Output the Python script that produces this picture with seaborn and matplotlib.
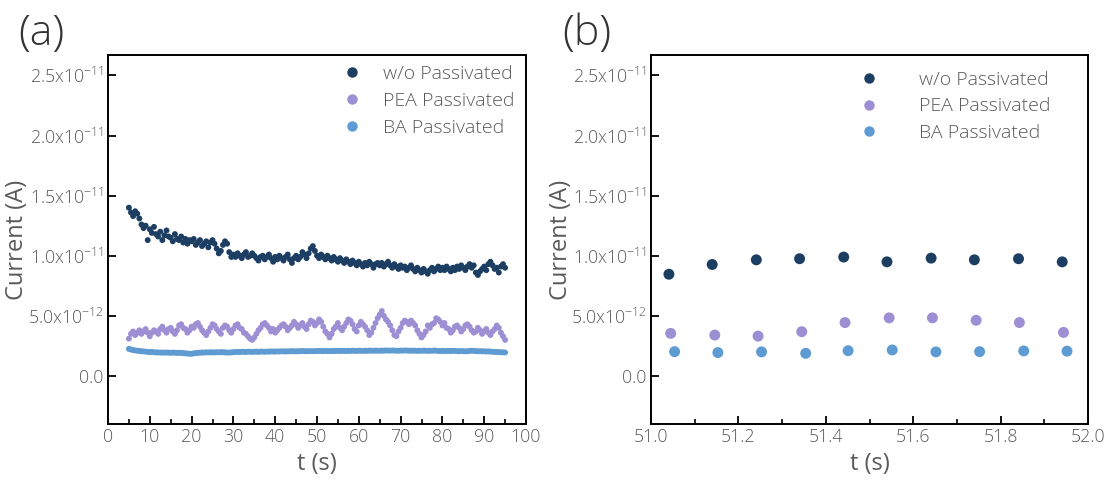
import numpy as np
import pandas as pd
import matplotlib
matplotlib.use("Agg")
import matplotlib.pyplot as plt
from matplotlib.ticker import FixedLocator, FixedFormatter, MultipleLocator
import seaborn as sns

# ---------------- data ----------------
series_names = ["w/o Passivated", "PEA Passivated", "BA Passivated"]
colors = ["#1d3e63", "#9c8fd4", "#5e9bd3"]

# panel (a): sampling times 5 .. 95 s, step 0.5 s
t_a = np.arange(5.0, 95.01, 0.5)

wo_a = [  # units of 1e-12 A
    14.0, 13.6, 13.3, 13.7, 13.5, 13.1, 12.6, 12.3, 12.5, 11.3,
    12.2, 11.9, 12.4, 11.8, 11.6, 12.0, 11.3, 11.7, 12.1, 11.6,
    11.5, 11.2, 11.8, 11.4, 11.3, 11.6, 11.1, 11.4, 11.0, 11.3,
    11.2, 11.4, 10.9, 11.1, 11.3, 10.8, 11.0, 11.2, 10.7, 11.1,
    11.3, 11.0, 10.6, 10.2, 10.4, 10.9, 11.2, 11.0, 10.3, 9.9,
    10.1, 9.9, 10.2, 10.0, 9.8, 10.1, 10.3, 9.9, 10.0, 10.2,
    10.0, 9.8, 9.6, 9.9, 10.0, 9.7, 9.9, 10.1, 9.8, 9.5,
    9.9, 9.7, 10.0, 9.8, 9.6, 9.9, 10.1, 9.7, 9.4, 9.8,
    10.0, 9.7, 9.9, 10.3, 10.1, 9.8, 10.2, 10.6, 10.8, 10.4,
    10.0, 9.8, 10.1, 9.9, 9.7, 10.0, 9.8, 9.6, 9.9, 9.7,
    9.5, 9.8, 9.6, 9.4, 9.7, 9.5, 9.3, 9.6, 9.4, 9.2,
    9.5, 9.3, 9.1, 9.4, 9.2, 9.5, 9.3, 9.0, 9.3, 9.4,
    9.2, 9.4, 9.1, 9.3, 9.5, 9.2, 9.0, 9.3, 9.1, 8.9,
    9.2, 9.0, 9.1, 8.8, 9.0, 9.2, 8.9, 8.7, 9.0, 8.8,
    8.6, 8.9, 8.7, 8.5, 8.8, 9.0, 8.7, 8.9, 9.1, 8.8,
    9.0, 8.8, 9.1, 8.9, 8.7, 9.0, 8.8, 9.1, 8.9, 9.2,
    9.0, 8.8, 9.1, 9.3, 9.0, 9.2, 8.6, 8.4, 8.7, 8.9,
    9.1, 8.8, 9.3, 9.5, 9.2, 8.9, 9.0, 8.6, 9.1, 9.3,
    9.0,
]

pea_a = [
    3.1, 3.5, 3.7, 3.4, 3.6, 3.8, 3.5, 3.7, 3.9, 3.6,
    3.3, 3.6, 3.8, 3.7, 3.5, 3.9, 4.1, 3.8, 3.6, 3.9,
    4.0, 3.7, 3.5, 3.8, 4.2, 4.3, 4.0, 3.9, 3.6, 3.8,
    4.1, 4.0, 4.3, 4.4, 4.1, 3.8, 3.6, 3.4, 3.7, 4.0,
    4.3, 4.2, 3.9, 3.7, 3.5, 4.0, 4.2, 4.1, 3.8, 3.6,
    3.9, 4.2, 4.3, 4.0, 3.9, 3.6, 3.5, 3.3, 3.1, 3.0,
    3.2, 3.5, 3.8, 4.0, 4.3, 4.4, 4.2, 4.0, 3.7, 3.9,
    3.6, 3.8, 4.0, 4.2, 4.3, 4.1, 3.8, 4.0, 4.2, 4.5,
    4.3, 4.0, 4.2, 4.4, 4.1, 3.9, 4.3, 4.6, 4.5, 4.2,
    4.4, 4.7, 4.5, 4.1, 3.7, 3.5, 3.2, 3.5, 3.9, 4.1,
    4.4, 4.0, 3.8, 4.1, 4.4, 4.7, 4.6, 4.3, 3.9, 3.7,
    4.2, 4.5, 4.3, 4.1, 3.8, 3.4, 3.6, 4.0, 4.4, 4.8,
    5.1, 5.4, 5.0, 4.7, 4.5, 4.2, 3.8, 3.4, 3.3, 3.7,
    4.0, 4.4, 4.6, 4.5, 4.3, 4.6, 4.4, 4.2, 3.8, 3.5,
    3.2, 3.4, 3.7, 4.2, 4.0, 4.3, 4.4, 4.8, 4.7, 4.5,
    4.2, 4.4, 4.0, 3.9, 3.6, 3.8, 4.1, 4.2, 4.0, 3.7,
    3.9, 4.2, 4.3, 4.1, 3.8, 3.6, 3.7, 4.0, 3.8, 3.5,
    3.7, 3.9, 3.6, 3.4, 3.7, 3.9, 4.2, 4.0, 3.6, 3.3,
    3.0,
]

ba_a = [
    2.25, 2.20, 2.15, 2.12, 2.10, 2.08, 2.05, 2.04, 2.02, 2.00,
    1.98, 2.00, 1.97, 1.95, 1.96, 1.94, 1.95, 1.93, 1.95, 1.94,
    1.92, 1.94, 1.93, 1.91, 1.93, 1.92, 1.90, 1.88, 1.86, 1.85,
    1.84, 1.88, 1.90, 1.92, 1.93, 1.95, 1.94, 1.96, 1.95, 1.97,
    1.96, 1.95, 1.97, 1.96, 1.98, 1.97, 1.96, 1.95, 1.94, 1.96,
    1.97, 1.99, 2.00, 1.98, 2.01, 2.00, 1.99, 2.02, 2.01, 2.00,
    2.01, 2.02, 2.00, 2.03, 2.02, 2.01, 2.03, 2.02, 2.04, 2.03,
    2.02, 2.04, 2.03, 2.05, 2.04, 2.03, 2.05, 2.04, 2.06, 2.05,
    2.04, 2.06, 2.05, 2.07, 2.06, 2.05, 2.07, 2.06, 2.05, 2.07,
    2.06, 2.08, 2.07, 2.06, 2.08, 2.07, 2.06, 2.08, 2.07, 2.09,
    2.08, 2.07, 2.09, 2.08, 2.07, 2.09, 2.08, 2.10, 2.09, 2.08,
    2.10, 2.09, 2.08, 2.10, 2.09, 2.11, 2.10, 2.09, 2.11, 2.10,
    2.09, 2.11, 2.10, 2.12, 2.11, 2.10, 2.12, 2.11, 2.10, 2.09,
    2.11, 2.10, 2.12, 2.11, 2.10, 2.09, 2.11, 2.10, 2.08, 2.10,
    2.09, 2.11, 2.10, 2.08, 2.10, 2.09, 2.11, 2.10, 2.08, 2.07,
    2.09, 2.08, 2.06, 2.08, 2.07, 2.09, 2.08, 2.06, 2.05, 2.07,
    2.06, 2.04, 2.06, 2.08, 2.10, 2.09, 2.07, 2.05, 2.06, 2.04,
    2.05, 2.03, 2.04, 2.02, 2.01, 2.00, 1.99, 1.98, 1.97, 1.96,
    1.95,
]

# panel (b): zoom 51 - 52 s
t_b_wo = [51.041, 51.140, 51.241, 51.340, 51.441, 51.540, 51.641, 51.740, 51.841, 51.941]
t_b_pea = [51.045, 51.146, 51.245, 51.345, 51.444, 51.545, 51.644, 51.744, 51.843, 51.944]
t_b_ba = [51.054, 51.153, 51.253, 51.354, 51.451, 51.552, 51.652, 51.752, 51.853, 51.952]
wo_b = [8.46, 9.27, 9.66, 9.75, 9.89, 9.49, 9.80, 9.66, 9.75, 9.49]
pea_b = [3.54, 3.40, 3.31, 3.68, 4.44, 4.83, 4.83, 4.63, 4.44, 3.62]
ba_b = [2.02, 1.94, 2.00, 1.88, 2.10, 2.16, 2.00, 2.02, 2.08, 2.06]

ytick_vals = [0.0, 5e-12, 1.0e-11, 1.5e-11, 2.0e-11, 2.5e-11]
ytick_labels = ["0.0", "5.0x10$^{-12}$", "1.0x10$^{-11}$", "1.5x10$^{-11}$",
                "2.0x10$^{-11}$", "2.5x10$^{-11}$"]
xticks_a = [0, 10, 20, 30, 40, 50, 60, 70, 80, 90, 100]
xticks_b = [51.0, 51.2, 51.4, 51.6, 51.8, 52.0]

# --------------- build frames ---------------
df_a = pd.concat([
    pd.DataFrame({"t": t_a, "I": np.array(v) * 1e-12, "series": n})
    for v, n in zip([wo_a, pea_a, ba_a], series_names)
], ignore_index=True)
df_b = pd.concat([
    pd.DataFrame({"t": tt, "I": np.array(v) * 1e-12, "series": n})
    for tt, v, n in zip([t_b_wo, t_b_pea, t_b_ba], [wo_b, pea_b, ba_b], series_names)
], ignore_index=True)

# --------------- style ---------------
sns.set_theme(style="ticks")
plt.rcParams["font.family"] = ["Open Sans", "DejaVu Sans"]
plt.rcParams["font.weight"] = "light"
plt.rcParams["mathtext.fontset"] = "custom"
plt.rcParams["mathtext.rm"] = "Open Sans:light"
plt.rcParams["mathtext.default"] = "regular"
text_col = "#5a5a5a"

fig = plt.figure(figsize=(11.09, 4.80), dpi=100)
W, H = 1109, 480
def box(l, r, t, b):
    return [l / W, 1 - b / H, (r - l) / W, (b - t) / H]

ax_a = fig.add_axes(box(108, 526, 55, 424))
ax_b = fig.add_axes(box(651, 1088, 55, 424))

palette = dict(zip(series_names, colors))
sns.scatterplot(data=df_a, x="t", y="I", hue="series", palette=palette,
                s=18, linewidth=0, ax=ax_a, legend=True)
sns.scatterplot(data=df_b, x="t", y="I", hue="series", palette=palette,
                s=62, linewidth=0, ax=ax_b, legend=True)

for ax, xt, xlim, minor, lab_x, leg_anchor, hpad in [
        (ax_a, xticks_a, (0, 100), 5, -0.19, (1.015, 1.02), 0.6),
        (ax_b, xticks_b, (51.0, 52.0), 0.1, -0.178, (0.955, 1.005), 1.6)]:
    ax.set_xlim(*xlim)
    ax.set_ylim(-4e-12, 2.67e-11)
    ax.xaxis.set_major_locator(FixedLocator(xt))
    ax.xaxis.set_minor_locator(MultipleLocator(minor))
    ax.yaxis.set_major_locator(FixedLocator(ytick_vals))
    ax.yaxis.set_major_formatter(FixedFormatter(ytick_labels))
    if ax is ax_b:
        ax.set_xticklabels([f"{v:.1f}" for v in xt])
    else:
        ax.set_xticklabels([str(v) for v in xt])
    ax.tick_params(which="major", direction="in", length=6, width=1.3,
                   labelsize=12.8, labelcolor=text_col, color="black", pad=3,
                   top=False, right=False)
    ax.tick_params(which="minor", axis="x", direction="in", length=3.5, width=1.2,
                   color="black", top=False)
    ax.tick_params(which="minor", axis="y", left=False)
    for sp in ax.spines.values():
        sp.set_visible(True)
        sp.set_linewidth(1.4)
        sp.set_color("black")
    ax.set_xlabel("t (s)", fontsize=17, color=text_col, labelpad=4)
    ax.set_ylabel("Current (A)", fontsize=17, color=text_col)
    ax.yaxis.set_label_coords(lab_x, 0.5)
    leg = ax.legend(loc="upper right", bbox_to_anchor=leg_anchor, frameon=False,
                    fontsize=14, handletextpad=hpad, labelspacing=0.45)
    for txt in leg.get_texts():
        txt.set_color(text_col)
    for h in leg.legend_handles:
        if hasattr(h, "set_markersize"):
            h.set_markersize(7.5)
        elif hasattr(h, "set_sizes"):
            h.set_sizes([45])

fig.text(18 / W, 1 - 45 / H, "(a)", fontsize=31, color="#333333")
fig.text(562 / W, 1 - 45 / H, "(b)", fontsize=31, color="#333333")

fig.savefig("out.png", dpi=100)
